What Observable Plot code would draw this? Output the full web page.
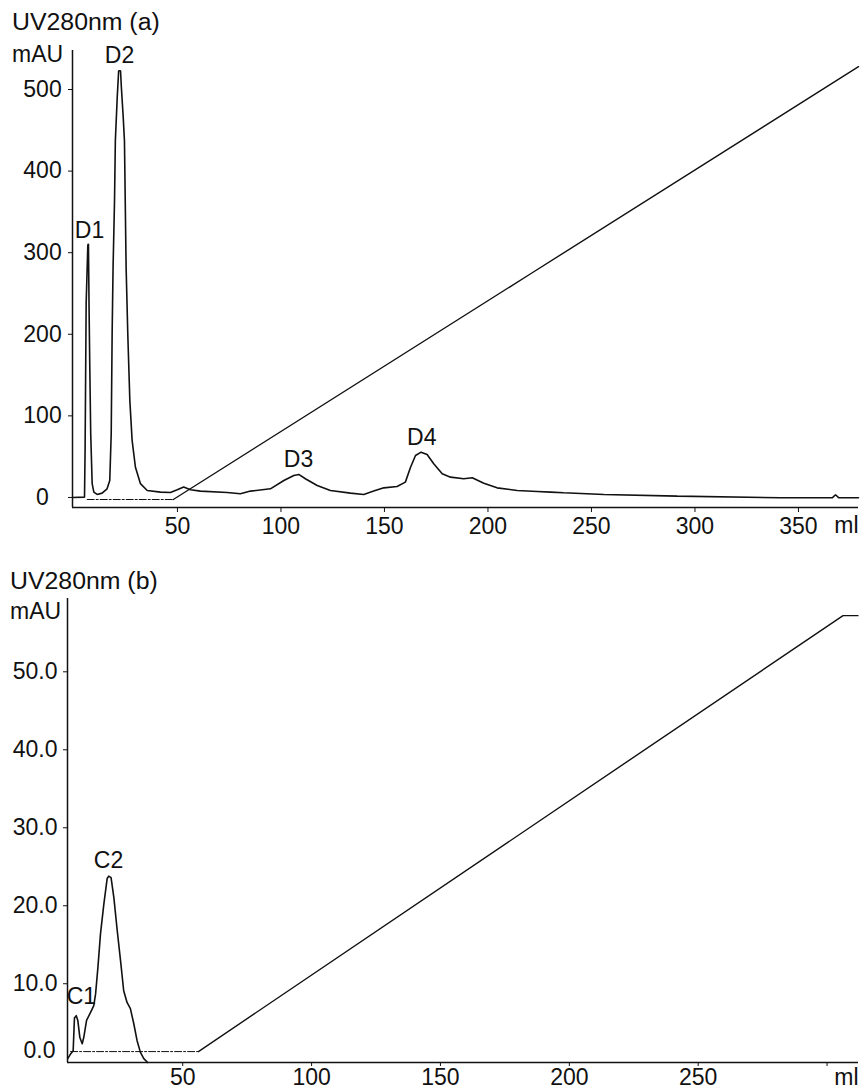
<!DOCTYPE html>
<html><head><meta charset="utf-8">
<script src="https://cdn.jsdelivr.net/npm/d3@7"></script>
<script src="https://cdn.jsdelivr.net/npm/@observablehq/plot@0.6"></script>
<style>
body{margin:0;background:#fff;}
#wrap{position:relative;width:860px;height:1090px;font-family:"Liberation Sans",Arial,sans-serif;color:#111;}
.lbl{position:absolute;font-size:23px;line-height:23px;white-space:nowrap;}
#a{position:absolute;left:0;top:0}
#b{position:absolute;left:0;top:545px}
svg{overflow:visible}
</style></head><body>
<div id="wrap">
 <div id="a"></div><div id="b"></div>
 <div class="lbl" style="left:12px;top:11px;transform:scaleX(1.08);transform-origin:left top">UV280nm (a)</div>
 <div class="lbl" style="left:12px;top:43px">mAU</div>
 <div class="lbl" style="left:10px;top:570px;transform:scaleX(1.08);transform-origin:left top">UV280nm (b)</div>
 <div class="lbl" style="left:10px;top:600px">mAU</div>
</div>
<script>
// ---------- Panel (a) data ----------
const uvA_ml  = [-0.7, 5.1, 5.4, 5.9, 6.7, 7.0, 7.3, 7.65, 8.1, 8.8, 9.6, 11.2, 13.6, 16.0, 17.3, 18.0, 18.45, 18.9, 19.6, 20.0, 20.9, 21.6, 22.5, 22.9, 23.8, 24.4, 25.2, 26.0, 27.0, 28.1, 29.7, 32.1, 35.4, 41.8, 46.6, 49.9, 53.0, 56.3, 61.1, 74, 80.4, 85.3, 94.9, 101.4, 106.2, 108.6, 111.8, 117.5, 123.9, 133.6, 140, 144.8, 149.7, 156.1, 160.1, 162.6, 165, 167.7, 170.6, 173.8, 177.9, 181.9, 188.3, 192.4, 198, 204.4, 214.1, 223.8, 230.2, 236.6, 256, 291.4, 341.3, 366.3, 367.9, 369.5, 379];
const uvA_mAU = [0, 0.4, 62, 238, 309, 311, 233, 160, 78, 17, 6.5, 3.7, 5.3, 10.6, 20.8, 78, 201, 282, 364, 437, 490, 523, 523, 503, 466, 437, 282, 201, 119, 70, 37, 17, 8.6, 6.5, 6.1, 9.4, 12.7, 9.4, 7.8, 6.1, 4.5, 7.8, 10.6, 20.8, 27, 28.2, 22.9, 14.7, 8.6, 5.3, 3.7, 7.8, 11.8, 13.5, 18.8, 37, 51.5, 55.5, 52.7, 41.3, 29, 24.9, 22.9, 24.1, 17.5, 11.8, 8.6, 7.3, 6.5, 5.7, 3.7, 1.6, -0.4, -0.4, 3.3, -0.4, -0.4];
const gradA_flat_ml = [6.4, 48];
const gradA_flat_v  = [-2.5, -2.5];
const gradA_ramp_ml = [48, 221, 379];
const gradA_ramp_v  = [-2.5, 274.8, 528];
const peaksA = ["D1", "D2", "D3", "D4"];
const peaksA_ml = [7.5, 22, 108.5, 168];
const peaksA_v  = [318.6, 533, 36.8, 63.7];
const xTicksA = [50, 100, 150, 200, 250, 300, 350];
const yTicksA = [0, 100, 200, 300, 400, 500];

// ---------- Panel (b) data ----------
const uvB_ml  = [5.4, 6.5, 7.5, 8.0, 8.7, 9.3, 10.1, 11.0, 11.6, 12.7, 14.2, 15.5, 16.2, 17.1, 18.1, 19.4, 20.7, 21.3, 22.2, 23.3, 24.6, 25.9, 27.1, 28.4, 29.7, 31.0, 32.3, 33.6, 34.9, 36.4];
const uvB_mAU = [0.4, 1.0, 1.4, 5.6, 5.9, 5.3, 3.1, 2.3, 3.1, 5.3, 6.3, 7.2, 8.7, 12.1, 16.4, 20.2, 23.5, 23.8, 23.6, 21.0, 16.8, 12.9, 9.1, 7.6, 6.8, 4.9, 2.7, 1.2, 0.4, -0.1];
const gradB_flat_ml = [6.5, 56.1];
const gradB_flat_v  = [1.3, 1.3];
const gradB_ramp_ml = [56.1, 306.2, 312];
const gradB_ramp_v  = [1.3, 57.2, 57.2];
const peaksB = ["C1", "C2"];
const peaksB_ml = [10.7, 21.2];
const peaksB_v  = [7.4, 24.9];
const xTicksB = [50, 100, 150, 200, 250, 300];
const yTicksB = [10, 20, 30, 40, 50];

const zip = (xs, ys) => xs.map((x, i) => ({x, y: ys[i]}));
const font = {fontFamily: '"Liberation Sans", Arial, sans-serif', fontSize: "23px", color: "#111", background: "transparent", overflow: "visible"};
const ink = "#111";

const xDomA = [-0.7, 379], yDomA = [-12.3, 547.8];
const A = Plot.plot({
  width: 860, height: 545, marginTop: 50, marginBottom: 38, marginLeft: 72, marginRight: 2,
  style: font,
  x: {domain: xDomA},
  y: {domain: yDomA},
  marks: [
    Plot.axisY({ticks: yTicksA, tickSize: 4, tickPadding: 26, textAnchor: "middle", label: null, stroke: ink}),
    Plot.axisX({ticks: xTicksA, tickSize: 5, tickPadding: 5, label: null, stroke: ink}),
    Plot.ruleX([xDomA[0]], {stroke: ink, strokeWidth: 1.5}),
    Plot.ruleY([yDomA[0]], {stroke: ink, strokeWidth: 1.5}),
    Plot.line(zip(gradA_flat_ml, gradA_flat_v), {x: "x", y: "y", stroke: ink, strokeWidth: 1, strokeDasharray: "7,2,2,2"}),
    Plot.line(zip(gradA_ramp_ml, gradA_ramp_v), {x: "x", y: "y", stroke: ink, strokeWidth: 1.4}),
    Plot.line(zip(uvA_ml, uvA_mAU), {x: "x", y: "y", stroke: ink, strokeWidth: 1.6, strokeLinejoin: "miter"}),
    Plot.text(peaksA, {x: (d, i) => peaksA_ml[i], y: (d, i) => peaksA_v[i], text: d => d, lineAnchor: "bottom", fill: ink}),
    Plot.text(["ml"], {frameAnchor: "bottom-right", textAnchor: "end", lineAnchor: "top", dy: 9, text: d => d, fill: ink})
  ]
});
document.getElementById("a").append(A);

const xDomB = [5.3, 312.2], yDomB = [-0.1, 59.4];
const B = Plot.plot({
  width: 860, height: 545, marginTop: 53, marginBottom: 28, marginLeft: 67, marginRight: 2,
  style: font,
  x: {domain: xDomB},
  y: {domain: yDomB},
  marks: [
    Plot.axisY({ticks: yTicksB, tickSize: 4, tickPadding: 6, tickFormat: d3.format(".1f"), label: null, stroke: ink}),
    Plot.text([0], {y: d => d, text: d => d3.format(".1f")(d), frameAnchor: "left", textAnchor: "end", dx: -12, dy: -11, fill: ink}),
    Plot.axisX({ticks: xTicksB, tickSize: 4, tickPadding: 2, tickFormat: d => d === 300 ? "" : d, label: null, stroke: ink}),
    Plot.ruleX([xDomB[0]], {stroke: ink, strokeWidth: 1.5}),
    Plot.ruleY([yDomB[0]], {stroke: ink, strokeWidth: 1.5}),
    Plot.line(zip(gradB_flat_ml, gradB_flat_v), {x: "x", y: "y", stroke: ink, strokeWidth: 1, strokeDasharray: "7,2,2,2"}),
    Plot.line(zip(gradB_ramp_ml, gradB_ramp_v), {x: "x", y: "y", stroke: ink, strokeWidth: 1.4}),
    Plot.line(zip(uvB_ml, uvB_mAU), {x: "x", y: "y", stroke: ink, strokeWidth: 1.6}),
    Plot.text(peaksB, {x: (d, i) => peaksB_ml[i], y: (d, i) => peaksB_v[i], text: d => d, lineAnchor: "bottom", fill: ink}),
    Plot.text(["ml"], {frameAnchor: "bottom-right", textAnchor: "end", lineAnchor: "top", dy: 6, text: d => d, fill: ink})
  ]
});
document.getElementById("b").append(B);
</script>
</body></html>
